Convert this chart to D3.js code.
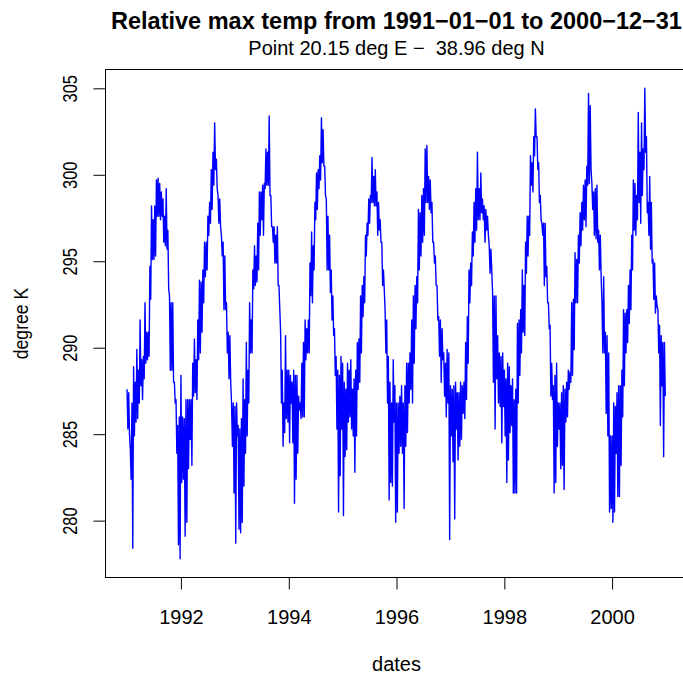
<!DOCTYPE html>
<html>
<head>
<meta charset="utf-8">
<script src="https://cdn.jsdelivr.net/npm/d3@7/dist/d3.min.js"></script>
<style>
  body { margin: 0; background: #fff; }
  text { font-family: "Liberation Sans", Arial, Helvetica, sans-serif; fill: #000; }
</style>
</head>
<body>
<div class="chart"></div>
<script>
var width = 683,
    height = 675;

var titleText = "Relative max temp from 1991\u221201\u221201 to 2000\u221212\u221231";
var subText = "Point 20.15 deg E \u2212  38.96 deg N";
var xLabel = "dates";
var yLabel = "degree K";

var startDate = "1991-01-01",
    endDate = "2000-12-31";

var years = [1991, 1992, 1993, 1994, 1995, 1996, 1997, 1998, 1999, 2000];
var xTickYears = [1992, 1994, 1996, 1998, 2000];
var yTicks = [280, 285, 290, 295, 300, 305];

// daily max temperature, samples spread evenly through each year
var t1991 = [287.6, 285.3, 287.4, 285.0, 284.1, 282.4, 286.8, 278.4, 288.9, 284.9, 288.0, 285.7,
  289.9, 285.9, 288.7, 286.8, 291.6, 287.8, 289.3, 287.0, 289.5, 288.2, 292.6, 289.1,
  290.9, 289.3, 290.9, 289.5, 294.7, 292.8, 298.2, 295.1, 297.4, 295.1, 298.2, 295.3,
  299.7, 297.6, 299.8, 297.6, 299.5, 297.4, 299.0, 297.6, 298.6, 296.1, 297.6, 295.9,
  299.2, 295.7, 296.8, 293.4, 293.0, 288.7, 292.6, 288.7, 292.6, 288.0, 288.0, 286.8,
  287.0, 283.9, 285.5, 278.6, 286.0, 277.8];
var t1992 = [288.4, 282.2, 286.0, 282.4, 285.9, 279.1, 287.0, 279.9, 287.0, 283.0, 287.0, 284.7,
  287.0, 283.2, 289.1, 287.2, 290.5, 287.4, 289.3, 287.0, 291.6, 289.3, 293.9, 289.7,
  293.8, 290.9, 294.5, 292.6, 296.1, 294.1, 296.1, 294.5, 297.6, 296.5, 298.4, 297.2,
  300.3, 298.0, 301.3, 299.4, 303.0, 300.3, 300.9, 299.2, 298.8, 297.2, 298.6, 297.0,
  296.5, 295.3, 296.1, 292.2, 295.3, 292.2, 292.6, 289.7, 290.9, 288.2, 290.7, 288.0,
  286.8, 284.3, 286.8, 281.6];
var t1993 = [286.6, 278.7, 286.8, 284.9, 285.5, 279.5, 285.3, 279.3, 285.9, 279.9, 288.2, 282.0,
  287.0, 283.9, 290.3, 284.9, 288.7, 286.8, 292.6, 289.7, 291.6, 289.7, 294.5, 293.4,
  295.9, 293.6, 295.3, 293.8, 297.2, 294.5, 299.0, 296.5, 299.0, 297.4, 299.4, 296.5,
  299.5, 299.2, 301.5, 299.4, 301.3, 299.4, 303.4, 298.8, 298.8, 297.0, 297.0, 296.1,
  297.0, 294.9, 296.5, 294.9, 297.0, 293.6, 293.6, 292.2, 290.9, 286.8, 288.7, 284.3,
  286.8, 285.1, 290.7, 285.9, 288.7, 285.7];
var t1994 = [288.7, 284.5, 288.4, 286.8, 288.0, 284.5, 288.7, 281.0, 288.4, 282.4, 288.4, 283.9,
  287.2, 286.4, 286.8, 285.9, 289.1, 286.0, 290.3, 286.0, 291.6, 289.3, 291.1, 289.7,
  291.6, 289.7, 294.9, 293.0, 296.7, 292.6, 295.9, 294.5, 298.4, 297.4, 300.1, 298.0,
  300.3, 299.2, 301.1, 299.7, 303.3, 300.7, 302.6, 300.5, 300.5, 298.8, 298.6, 294.5,
  297.6, 294.5, 296.5, 293.2, 294.5, 291.6, 293.0, 290.7, 291.1, 288.4, 289.5, 285.3,
  288.7, 280.5, 288.4, 282.6, 289.5, 285.3];
var t1995 = [289.1, 280.3, 288.0, 283.7, 287.6, 284.1, 289.1, 285.7, 288.7, 286.0, 289.3, 285.3,
  287.6, 284.9, 288.2, 282.8, 288.7, 284.9, 290.3, 287.6, 290.5, 288.0, 293.0, 289.7,
  293.6, 291.8, 294.1, 292.6, 296.5, 295.3, 297.2, 296.5, 298.6, 297.2, 298.8, 298.4,
  301.0, 298.4, 299.9, 298.2, 300.3, 298.2, 299.0, 296.5, 298.4, 296.8, 297.4, 296.1,
  296.1, 293.6, 294.5, 293.4, 292.2, 289.7, 291.6, 286.8, 289.5, 281.2, 288.0, 282.2,
  286.8, 282.0, 289.3, 285.7, 287.8, 279.9];
var t1996 = [286.8, 280.5, 286.8, 283.9, 287.2, 284.3, 287.8, 283.9, 286.8, 280.7, 287.8, 284.3,
  289.1, 285.1, 289.1, 286.8, 289.7, 287.6, 291.6, 286.8, 293.0, 289.1, 293.6, 291.1,
  294.1, 292.6, 298.0, 294.5, 297.8, 295.3, 298.8, 296.1, 299.2, 296.5, 301.5, 298.4,
  301.7, 298.4, 299.9, 298.0, 299.7, 297.8, 298.4, 296.1, 296.1, 294.9, 295.3, 293.6,
  293.6, 291.6, 291.8, 289.5, 291.6, 288.0, 291.1, 289.3, 289.7, 287.2, 289.1, 286.0,
  289.9, 286.8, 289.7, 278.9];
var t1997 = [287.8, 284.9, 287.6, 283.4, 287.8, 280.1, 288.0, 285.3, 287.4, 283.5, 287.4, 284.3,
  288.0, 284.7, 287.8, 286.2, 288.0, 285.9, 290.3, 287.0, 291.8, 289.1, 294.5, 292.6,
  294.9, 293.6, 296.7, 295.3, 298.4, 296.1, 299.2, 296.8, 301.3, 297.4, 299.2, 297.4,
  300.1, 297.8, 298.6, 297.4, 298.2, 296.1, 298.0, 296.8, 297.6, 296.5, 295.9, 294.3,
  295.7, 294.5, 293.2, 288.0, 293.0, 285.3, 293.0, 288.2, 290.7, 286.8, 289.7, 286.6,
  289.5, 284.5, 289.7, 286.6];
var t1998 = [288.7, 284.9, 288.2, 282.2, 289.1, 283.5, 288.9, 285.1, 287.8, 285.5, 288.2, 281.6,
  287.0, 281.6, 287.6, 281.6, 291.4, 286.8, 291.6, 288.4, 292.2, 289.7, 294.5, 290.9,
  293.6, 290.7, 296.1, 294.3, 297.6, 295.3, 297.6, 296.5, 301.1, 299.4, 300.7, 299.0,
  302.2, 301.1, 303.8, 302.2, 302.2, 300.3, 300.7, 298.4, 298.8, 297.4, 297.2, 296.5,
  297.2, 293.6, 297.2, 294.1, 294.7, 292.6, 292.6, 291.1, 291.3, 287.2, 289.1, 287.0,
  287.8, 281.6, 288.4, 282.2, 289.1, 284.3];
var t1999 = [286.8, 285.3, 286.8, 283.0, 287.4, 283.2, 287.8, 281.8, 287.6, 285.7, 288.0, 286.0,
  288.7, 287.6, 288.6, 288.0, 292.6, 288.4, 292.8, 289.9, 295.5, 292.6, 295.1, 292.6,
  296.5, 294.9, 297.8, 295.9, 298.4, 296.8, 299.4, 297.4, 299.7, 297.0, 300.5, 299.4,
  304.7, 299.5, 304.0, 300.3, 299.5, 298.0, 299.0, 296.5, 299.2, 296.3, 299.4, 296.1,
  296.8, 294.5, 296.5, 294.1, 292.6, 289.7, 294.1, 289.7, 290.9, 286.2, 290.7, 284.9,
  289.7, 280.5, 284.9, 280.7];
var t2000 = [284.9, 279.9, 286.8, 280.5, 286.6, 283.9, 287.4, 281.4, 287.8, 281.4, 287.8, 283.2,
  288.7, 286.0, 292.2, 287.8, 292.0, 289.7, 292.2, 290.3, 293.6, 291.4, 294.5, 292.2,
  296.5, 294.5, 299.7, 296.8, 299.5, 296.5, 298.8, 297.4, 303.6, 298.4, 301.3, 297.2,
  303.0, 298.8, 301.5, 300.3, 305.0, 301.3, 302.2, 297.8, 298.4, 296.5, 299.9, 295.7,
  298.4, 294.9, 295.1, 292.8, 294.9, 292.0, 293.0, 292.4, 292.2, 289.7, 291.3, 285.5,
  290.7, 287.8, 290.3, 283.7, 290.3, 287.2];

var yearly = [t1991, t1992, t1993, t1994, t1995, t1996, t1997, t1998, t1999, t2000];

var DAY = 864e5;

// one continuous series: samples evenly spaced within each year
var series = [];
years.forEach(function(y, j) {
  var arr = yearly[j];
  var t0 = Date.UTC(y, 0, 1);
  var days = (Date.UTC(y + 1, 0, 1) - t0) / DAY;
  arr.forEach(function(v, k) {
    series.push({ date: new Date(t0 + k * days / arr.length * DAY), value: v });
  });
});

// plot region (R style: 4% padding on both axes)
var plotLeft = 105.5,
    plotRight = 687.5,
    plotTop = 69.5,
    plotBottom = 577.5;

var t0 = d3.utcParse("%Y-%m-%d")(startDate),
    t1 = d3.utcParse("%Y-%m-%d")(endDate);
var xPad = (t1 - t0) * 0.04;
var x = d3.scaleUtc()
  .domain([new Date(+t0 - xPad), new Date(+t1 + xPad)])
  .range([plotLeft, plotRight]);

var ext = d3.extent(series, function(d) { return d.value; });
var yPad = (ext[1] - ext[0]) * 0.04;
var y = d3.scaleLinear()
  .domain([ext[0] - yPad, ext[1] + yPad])
  .range([plotBottom, plotTop]);

var svg = d3.select(".chart")
  .append("svg")
  .attr("width", width)
  .attr("height", height);

svg.append("rect")
  .attr("width", width)
  .attr("height", height)
  .attr("fill", "#fff");

// data line
var line = d3.line()
  .x(function(d) { return x(d.date); })
  .y(function(d) { return y(d.value); });

svg.append("path")
  .datum(series)
  .attr("fill", "none")
  .attr("stroke", "#0000ff")
  .attr("stroke-width", 1.4)
  .attr("stroke-linejoin", "round")
  .attr("d", line);

// box
svg.append("rect")
  .attr("x", plotLeft)
  .attr("y", plotTop)
  .attr("width", plotRight - plotLeft)
  .attr("height", plotBottom - plotTop)
  .attr("fill", "none")
  .attr("stroke", "#000")
  .attr("stroke-width", 1);

// x axis
var xTicks = xTickYears.map(function(yr) { return new Date(Date.UTC(yr, 0, 1)); });
var xAxis = d3.axisBottom(x)
  .tickValues(xTicks)
  .tickSize(12)
  .tickPadding(20)
  .tickFormat(d3.utcFormat("%Y"));

var gx = svg.append("g")
  .attr("transform", "translate(0," + plotBottom + ")")
  .call(xAxis);
gx.select(".domain")
  .attr("d", "M" + x(xTicks[0]) + ",0H" + x(xTicks[xTicks.length - 1]));
gx.selectAll("text")
  .attr("font-size", "20px")
  .attr("font-family", "Liberation Sans, Arial, sans-serif")
  .attr("fill", "#000");
gx.selectAll("line, path").attr("stroke", "#000");

// y axis
var yAxis = d3.axisLeft(y)
  .tickValues(yTicks)
  .tickSize(12)
  .tickFormat(d3.format("d"));

var gy = svg.append("g")
  .attr("transform", "translate(" + plotLeft + ",0)")
  .call(yAxis);
gy.select(".domain")
  .attr("d", "M0," + y(yTicks[0]) + "V" + y(yTicks[yTicks.length - 1]));
gy.selectAll("line, path").attr("stroke", "#000");
// tick groups are already translated to y(d), so only shift and rotate here
gy.selectAll("text")
  .attr("x", null)
  .attr("dy", null)
  .attr("text-anchor", "middle")
  .attr("font-size", "20px")
  .attr("font-family", "Liberation Sans, Arial, sans-serif")
  .attr("fill", "#000")
  .attr("transform", "translate(" + (76.7 - plotLeft) + ",0) rotate(-90) scale(0.82,1)");

// titles
svg.append("text")
  .attr("x", (plotLeft + plotRight) / 2)
  .attr("y", 28.5)
  .attr("text-anchor", "middle")
  .attr("font-size", "23.5px")
  .attr("font-weight", "bold")
  .text(titleText);

svg.append("text")
  .attr("x", (plotLeft + plotRight) / 2)
  .attr("y", 55)
  .attr("text-anchor", "middle")
  .attr("font-size", "20px")
  .style("white-space", "pre")
  .text(subText);

svg.append("text")
  .attr("x", (plotLeft + plotRight) / 2)
  .attr("y", 670.5)
  .attr("text-anchor", "middle")
  .attr("font-size", "20px")
  .text(xLabel);

svg.append("text")
  .attr("transform", "translate(28," + ((plotTop + plotBottom) / 2) + ") rotate(-90) scale(0.88,1)")
  .attr("text-anchor", "middle")
  .attr("font-size", "20px")
  .text(yLabel);
</script>
</body>
</html>
